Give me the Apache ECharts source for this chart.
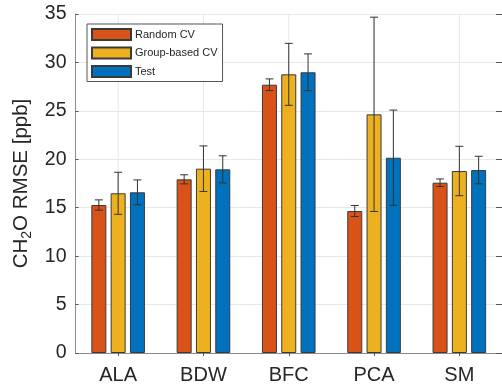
<!DOCTYPE html>
<html>
<head>
<meta charset="utf-8">
<script src="https://cdn.jsdelivr.net/npm/echarts@6/dist/echarts.min.js"></script>
<style>html,body{margin:0;padding:0;background:#fff;}#c{width:502px;height:388px;}</style>
</head>
<body>
<div id="c"></div>
<script>
const categories = ['ALA', 'BDW', 'BFC', 'PCA', 'SM'];
const seriesNames = ['Random CV', 'Group-based CV', 'Test'];
const randomCV = [15.28, 17.93, 27.70, 14.66, 17.58];
const randomErr = [0.53, 0.47, 0.60, 0.57, 0.39];
const groupCV = [16.49, 19.03, 28.77, 24.64, 18.79];
const groupErr = [2.17, 2.35, 3.20, 10.03, 2.55];
const testVals = [16.59, 18.96, 28.98, 20.16, 18.89];
const testErr = [1.28, 1.40, 1.90, 4.92, 1.42];
const yTicks = [0, 5, 10, 15, 20, 25, 30, 35];

const colors = ['#D95319', '#EDB120', '#0072BD'];
const values = [randomCV, groupCV, testVals];
const errs = [randomErr, groupErr, testErr];

const BAR_W = 15;
const PITCH = 19.3;
const FONT = 'Liberation Sans, Arial, sans-serif';

const chart = echarts.init(document.getElementById('c'), null, {renderer: 'canvas'});

const barSeries = values.map((v, i) => ({
  name: seriesNames[i],
  type: 'bar',
  data: v,
  barWidth: BAR_W,
  barGap: ((PITCH - BAR_W) / BAR_W * 100) + '%',
  itemStyle: {color: colors[i], borderColor: '#3a3a3a', borderWidth: 1},
  emphasis: {disabled: true},
  z: 2
}));

// vertical grid lines at category centres
const vGridSeries = {
  type: 'custom',
  data: categories.map((c, i) => [i]),
  z: 1,
  silent: true,
  renderItem: function (params, api) {
    const x = api.coord([api.value(0), 0])[0];
    const cs = params.coordSys;
    return {
      type: 'line',
      shape: {x1: x, y1: cs.y, x2: x, y2: cs.y + cs.height},
      style: {stroke: '#e8e8e8', lineWidth: 1}
    };
  }
};

const errData = [];
values.forEach((v, s) => {
  v.forEach((val, c) => {
    errData.push([c, s, val - errs[s][c], val + errs[s][c]]);
  });
});

const errSeries = {
  type: 'custom',
  data: errData,
  z: 5,
  silent: true,
  renderItem: function (params, api) {
    const c = api.value(0);
    const s = api.value(1);
    const lo = api.coord([c, api.value(2)]);
    const hi = api.coord([c, api.value(3)]);
    const x = lo[0] + (s - 1) * PITCH;
    const cap = 4;
    const st = {stroke: '#333', lineWidth: 1, fill: null};
    return {
      type: 'group',
      children: [
        {type: 'line', shape: {x1: x, y1: lo[1], x2: x, y2: hi[1]}, style: st},
        {type: 'line', shape: {x1: x - cap, y1: lo[1], x2: x + cap, y2: lo[1]}, style: st},
        {type: 'line', shape: {x1: x - cap, y1: hi[1], x2: x + cap, y2: hi[1]}, style: st}
      ]
    };
  }
};

const axisColor = '#8a8a8a';
const option = {
  animation: false,
  backgroundColor: '#fff',
  textStyle: {fontFamily: FONT},
  legend: {
    data: seriesNames,
    orient: 'vertical',
    left: 87,
    top: 24,
    icon: 'rect',
    itemWidth: 39,
    itemHeight: 11,
    itemGap: 5.5,
    padding: [4, 5, 3.5, 4],
    borderColor: '#555',
    borderWidth: 1,
    backgroundColor: '#fff',
    selectedMode: false,
    textStyle: {fontSize: 11, color: '#262626', fontFamily: FONT, padding: [0, 0, 0, -1]}
  },
  grid: {left: 75.5, right: -4, top: 14, bottom: 35},
  xAxis: [{
    type: 'category',
    data: categories,
    axisLine: {lineStyle: {color: axisColor, width: 1}},
    axisTick: {show: false},
    axisLabel: {fontSize: 20, color: '#262626', margin: 12, fontFamily: FONT},
    splitLine: {show: false}
  }, {
    type: 'category',
    data: categories,
    position: 'top',
    axisLine: {lineStyle: {color: axisColor, width: 1}},
    axisTick: {show: true, inside: true, alignWithLabel: true, length: 3, lineStyle: {color: '#555'}},
    axisLabel: {show: false},
    splitLine: {show: false}
  }],
  yAxis: [{
    type: 'value',
    min: 0,
    max: 35,
    interval: 5,
    axisLine: {show: true, lineStyle: {color: axisColor, width: 1}},
    axisTick: {show: true, inside: true, length: 3, lineStyle: {color: '#555'}},
    axisLabel: {
      fontSize: 19.5, color: '#262626', margin: 9,
      fontFamily: FONT,
      formatter: function (v) { return yTicks.indexOf(v) >= 0 ? String(v) : ''; }
    },
    splitLine: {show: true, lineStyle: {color: '#e8e8e8', width: 1}},
    name: '{a|CH}{s|2}{a|O RMSE [ppb]}',
    nameLocation: 'middle',
    nameGap: 38,
    nameTextStyle: {
      color: '#262626',
      fontFamily: FONT,
      rich: {
        a: {fontSize: 20.5, lineHeight: 26, color: '#262626', fontFamily: FONT},
        s: {fontSize: 14, lineHeight: 14, verticalAlign: 'bottom', color: '#262626', fontFamily: FONT}
      }
    }
  }, {
    type: 'value',
    position: 'right',
    min: 0,
    max: 35,
    interval: 5,
    axisLine: {show: true, lineStyle: {color: axisColor, width: 1}},
    axisTick: {show: true, inside: true, length: 6, lineStyle: {color: '#555'}},
    axisLabel: {show: false},
    splitLine: {show: false}
  }],
  series: [vGridSeries].concat(barSeries).concat([errSeries])
};
chart.setOption(option);
</script>
</body>
</html>
